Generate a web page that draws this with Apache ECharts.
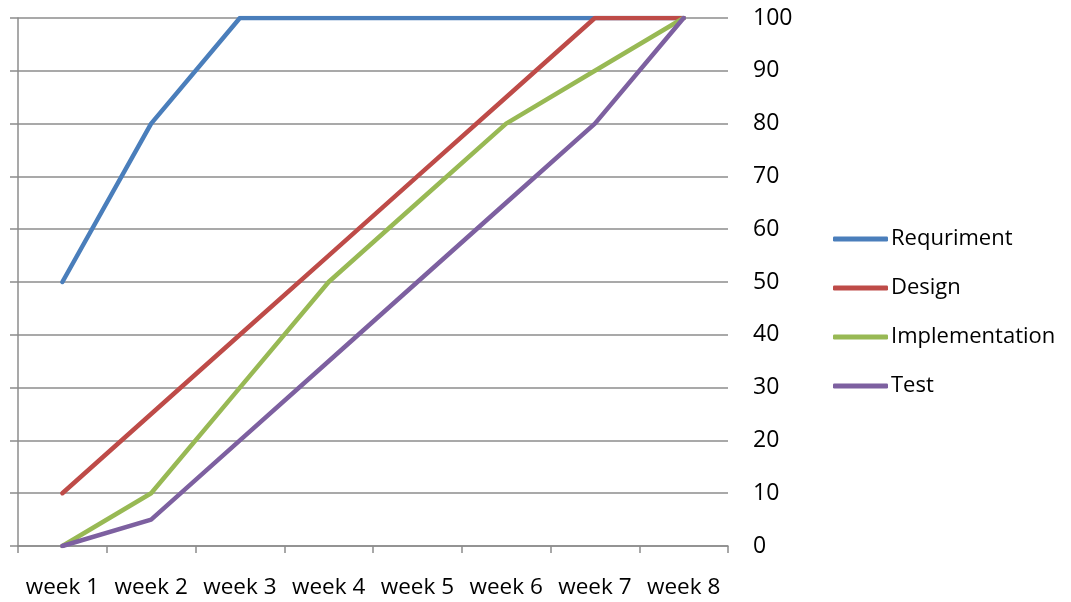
<!DOCTYPE html>
<html>
<head>
<meta charset="utf-8">
<script src="https://cdn.jsdelivr.net/npm/echarts@6/dist/echarts.min.js"></script>
<style>html,body{margin:0;padding:0;background:#fff}#main{width:1071px;height:602px}</style>
</head>
<body>
<div id="main"></div>
<script>
var weeks = ["week 1", "week 2", "week 3", "week 4", "week 5", "week 6", "week 7", "week 8"]
var requirement = [50, 80, 100, 100, 100, 100, 100, 100]
var design = [10, 25, 40, 55, 70, 85, 100, 100]
var implementation = [0, 10, 30, 50, 65, 80, 90, 100]
var test = [0, 5, 20, 35, 50, 65, 80, 100]

var font = "Open Sans"
var gridColor = "#8c8c8c"

function line(name, data, color) {
    return {name: name, type: "line", data: data, symbol: "none", yAxisIndex: 0,
        lineStyle: {color: color, width: 4.5, cap: "round", join: "round"}, itemStyle: {color: color}}
}

var chart = echarts.init(document.getElementById("main"))
chart.setOption({
    animation: false,
    grid: {left: 18, right: 343, top: 18, bottom: 56},
    legend: {
        orient: "vertical", left: 828, top: 223, itemWidth: 55, itemHeight: 5, itemGap: 27,
        icon: "roundRect",
        textStyle: {fontFamily: font, fontSize: 22, color: "#000", padding: [0, 0, 0, -2]},
        data: ["Requriment", "Design", "Implementation", "Test"]
    },
    xAxis: {
        type: "category", data: weeks, boundaryGap: true,
        axisLine: {lineStyle: {color: gridColor, width: 1.5}},
        axisTick: {show: true, interval: 0, length: 7, lineStyle: {color: gridColor, width: 1.5}},
        axisLabel: {interval: 0, fontFamily: font, fontSize: 22.5, color: "#000", margin: 30}
    },
    yAxis: [{
        type: "value", position: "right", min: 0, max: 100, interval: 10,
        axisLine: {show: false}, axisTick: {show: false},
        axisLabel: {fontFamily: font, fontSize: 23, color: "#000", margin: 25, align: "left"},
        splitLine: {lineStyle: {color: gridColor, width: 1.5}}
    }, {
        type: "value", position: "left", min: 0, max: 100, interval: 10,
        axisLine: {show: true, lineStyle: {color: gridColor, width: 1.5}},
        axisTick: {show: true, length: 8, lineStyle: {color: gridColor, width: 1.5}},
        axisLabel: {show: false}, splitLine: {show: false}
    }],
    series: [
        line("Requriment", requirement, "#4a7ebb"),
        line("Design", design, "#be4b48"),
        line("Implementation", implementation, "#98b954"),
        line("Test", test, "#7d60a0")
    ]
})
</script>
</body>
</html>
